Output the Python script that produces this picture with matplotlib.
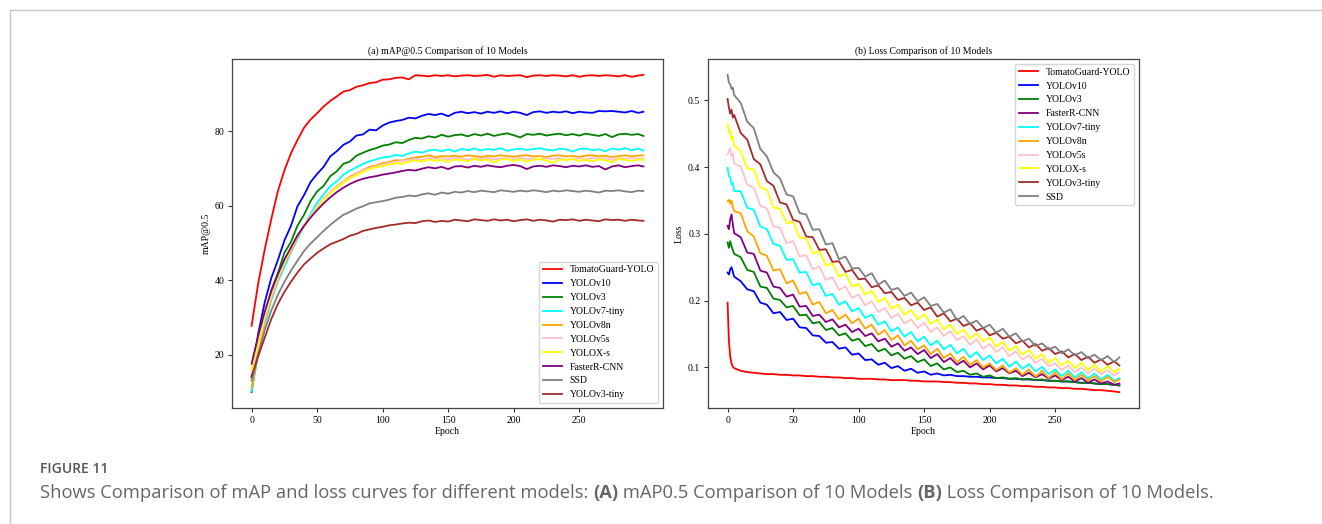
import numpy as np
import matplotlib
matplotlib.use("Agg")
import matplotlib.pyplot as plt
from matplotlib.lines import Line2D

# epochs
map_epochs = list(range(0, 300, 5)) + [299]
loss_epochs = [0, 1, 2, 3, 4] + list(range(5, 300, 5)) + [299]

# ---- (a) mAP@0.5 ----
map_tomato = [27.7, 39.0, 48.2, 56.3, 63.8, 69.4, 74.0, 77.6, 80.9, 83.1, 84.8, 86.6, 88.1, 89.3, 90.6, 91.0, 91.9, 92.3, 92.9, 93.1,
              93.8, 93.9, 94.3, 94.4, 93.9, 95.0, 94.9, 94.7, 95.0, 94.8, 95.0, 94.7, 94.9, 95.0, 94.8, 94.9, 95.1, 94.6, 95.0, 94.8,
              94.9, 95.0, 94.5, 94.9, 95.0, 94.8, 95.0, 94.9, 94.7, 95.0, 94.6, 94.9, 95.0, 94.8, 95.0, 94.9, 94.7, 95.0, 94.6, 94.9, 95.1]
map_v10 = [14.0, 25.5, 34.0, 40.5, 45.3, 50.6, 54.5, 59.8, 62.8, 66.3, 68.5, 70.4, 73.2, 74.6, 76.3, 77.2, 78.8, 79.1, 80.4, 80.2,
           81.5, 82.3, 82.7, 83.0, 83.6, 83.4, 84.1, 84.6, 84.3, 84.7, 84.0, 84.9, 85.2, 84.8, 85.1, 84.7, 85.2, 84.9, 85.3, 84.8,
           85.2, 84.9, 84.3, 85.1, 85.3, 84.9, 85.2, 85.0, 85.3, 84.8, 85.2, 85.0, 84.9, 85.4, 85.3, 85.4, 85.2, 85.0, 85.4, 84.9, 85.2]
map_v3 = [9.9, 21.5, 30.0, 37.2, 41.8, 47.3, 50.2, 54.6, 57.5, 61.2, 63.8, 65.3, 67.9, 69.2, 71.2, 71.8, 73.4, 74.2, 74.9, 75.4,
          76.1, 76.4, 77.0, 76.8, 77.6, 78.2, 78.0, 78.6, 78.3, 79.0, 78.5, 78.9, 79.1, 78.6, 79.2, 78.8, 79.3, 78.7, 79.1, 79.4,
          78.9, 78.3, 79.2, 79.0, 79.3, 78.8, 79.1, 79.3, 78.9, 79.2, 78.8, 79.3, 79.0, 78.7, 79.2, 78.4, 79.1, 79.3, 79.0, 79.2, 78.7]
map_v7tiny = [10.2, 19.8, 28.0, 34.5, 39.5, 43.5, 47.4, 51.0, 54.6, 57.8, 60.8, 63.0, 65.2, 66.5, 68.3, 69.4, 70.3, 71.2, 71.9, 72.4,
              72.9, 73.1, 73.6, 73.3, 74.0, 74.5, 74.2, 74.8, 75.0, 74.6, 75.1, 74.5, 75.2, 74.9, 75.3, 74.8, 75.2, 75.0, 75.4, 74.7,
              75.1, 75.3, 74.9, 75.2, 75.4, 75.0, 74.8, 75.3, 75.1, 74.5, 75.2, 75.3, 74.9, 75.1, 74.6, 75.3, 75.0, 75.4, 74.9, 75.3, 74.8]
map_v8n = [11.0, 20.5, 29.0, 35.0, 40.0, 44.5, 47.6, 51.5, 54.6, 57.0, 59.6, 61.8, 63.5, 65.2, 66.4, 67.8, 68.7, 69.5, 70.4, 70.8,
           71.4, 71.7, 72.2, 72.1, 72.6, 72.9, 73.1, 73.5, 73.0, 73.3, 73.2, 73.4, 73.1, 73.5, 73.3, 73.0, 73.4, 73.2, 73.5, 73.3,
           73.1, 73.4, 73.5, 73.2, 73.3, 73.0, 73.4, 73.5, 73.2, 73.3, 73.1, 73.4, 73.5, 73.2, 73.4, 73.0, 73.3, 73.5, 73.2, 73.4, 73.5]
map_v5s = [15.0, 22.0, 29.5, 35.5, 40.3, 44.6, 48.0, 51.8, 54.8, 57.3, 59.8, 62.0, 63.6, 65.0, 66.3, 67.5, 68.6, 69.4, 70.0, 70.6,
           71.0, 71.5, 71.7, 72.0, 72.2, 72.6, 72.3, 72.8, 72.5, 72.7, 72.4, 72.8, 72.6, 72.3, 72.7, 72.5, 72.8, 72.4, 72.6, 72.7,
           72.3, 72.8, 72.5, 72.6, 72.4, 72.7, 72.5, 72.8, 72.3, 72.6, 72.7, 72.4, 72.8, 72.5, 72.6, 72.3, 72.7, 72.5, 72.8, 72.4, 72.6]
map_yolox = [16.0, 23.0, 30.5, 36.5, 41.0, 45.0, 48.5, 52.0, 54.5, 57.0, 59.3, 61.5, 63.3, 64.8, 66.0, 67.3, 68.2, 69.0, 69.8, 70.3,
             70.6, 71.0, 71.4, 71.2, 71.8, 72.1, 71.8, 72.4, 72.0, 72.3, 71.7, 72.4, 72.2, 71.9, 72.5, 72.1, 72.4, 71.6, 72.3, 72.5,
             72.0, 72.4, 71.8, 72.3, 72.5, 72.1, 71.5, 72.4, 72.2, 72.5, 72.0, 72.3, 71.9, 72.4, 72.2, 71.6, 72.5, 72.3, 72.0, 72.4, 72.2]
map_frcnn = [17.5, 25.0, 31.5, 37.0, 41.5, 45.5, 48.7, 52.0, 54.5, 56.8, 58.8, 60.6, 62.2, 63.6, 64.8, 65.8, 66.6, 67.2, 67.6, 67.9,
             68.3, 68.6, 68.9, 69.3, 69.6, 69.4, 69.9, 70.3, 70.0, 70.4, 69.8, 70.5, 70.6, 70.2, 70.7, 70.4, 70.8, 70.5, 70.3, 70.7,
             70.9, 70.6, 69.8, 70.5, 70.7, 70.4, 70.8, 70.6, 70.3, 70.7, 70.5, 70.8, 70.4, 70.6, 69.7, 70.5, 70.8, 70.3, 70.6, 70.8, 70.5]
map_ssd = [13.0, 20.0, 26.5, 31.8, 36.0, 39.5, 42.5, 45.2, 47.8, 49.8, 51.5, 53.2, 54.8, 56.2, 57.5, 58.3, 59.2, 59.8, 60.6, 60.9,
           61.2, 61.6, 62.1, 62.3, 62.7, 62.5, 63.0, 63.3, 62.9, 63.5, 63.2, 63.7, 63.5, 63.9, 63.6, 64.0, 63.8, 63.6, 64.1, 63.9,
           63.7, 64.0, 63.8, 64.1, 63.9, 63.6, 64.0, 63.8, 64.1, 63.9, 63.7, 64.0, 63.8, 63.5, 64.0, 63.9, 64.1, 63.8, 63.6, 64.0, 63.9]
map_v3tiny = [14.0, 19.5, 24.5, 29.5, 33.5, 36.8, 39.5, 42.0, 44.2, 45.8, 47.3, 48.5, 49.6, 50.3, 51.0, 51.9, 52.4, 53.2, 53.6, 54.0,
              54.3, 54.7, 54.9, 55.2, 55.4, 55.3, 55.8, 56.0, 55.6, 55.9, 55.7, 56.2, 56.0, 55.8, 56.3, 56.1, 55.9, 56.3, 56.0, 56.2,
              55.8, 56.1, 56.3, 55.9, 56.2, 56.0, 55.7, 56.2, 56.1, 56.3, 55.9, 56.2, 56.0, 55.8, 56.3, 56.1, 56.2, 55.9, 56.2, 56.0, 55.9]

# ---- (b) Loss ----
loss_tomato = [0.197, 0.140, 0.116, 0.106, 0.101, 0.099, 0.095, 0.093, 0.092, 0.091, 0.090, 0.090, 0.089, 0.089, 0.088, 0.088,
               0.087, 0.087, 0.086, 0.086, 0.085, 0.085, 0.084, 0.084, 0.083, 0.083, 0.083, 0.082, 0.082, 0.081, 0.081, 0.081,
               0.080, 0.080, 0.079, 0.079, 0.079, 0.078, 0.078, 0.077, 0.077, 0.076, 0.076, 0.075, 0.075, 0.074, 0.074, 0.073,
               0.073, 0.072, 0.072, 0.071, 0.071, 0.070, 0.070, 0.069, 0.069, 0.068, 0.068, 0.067, 0.066, 0.066, 0.065, 0.064, 0.063]
loss_v10 = [0.242, 0.239, 0.247, 0.250, 0.243, 0.236, 0.229, 0.217, 0.214, 0.197, 0.194, 0.181, 0.183, 0.171, 0.173, 0.160,
            0.159, 0.148, 0.147, 0.137, 0.138, 0.128, 0.130, 0.119, 0.121, 0.111, 0.112, 0.104, 0.107, 0.099, 0.102, 0.095,
            0.098, 0.092, 0.094, 0.089, 0.091, 0.088, 0.089, 0.087, 0.087, 0.086, 0.086, 0.085, 0.085, 0.084, 0.084, 0.083,
            0.083, 0.082, 0.082, 0.081, 0.081, 0.080, 0.080, 0.079, 0.079, 0.078, 0.077, 0.077, 0.076, 0.075, 0.075, 0.074, 0.073]
loss_v3 = [0.287, 0.279, 0.289, 0.281, 0.276, 0.270, 0.265, 0.246, 0.243, 0.221, 0.219, 0.203, 0.201, 0.190, 0.192, 0.178,
           0.179, 0.166, 0.168, 0.156, 0.159, 0.148, 0.151, 0.140, 0.143, 0.132, 0.135, 0.124, 0.128, 0.118, 0.122, 0.113,
           0.117, 0.108, 0.112, 0.102, 0.106, 0.097, 0.100, 0.093, 0.095, 0.089, 0.091, 0.086, 0.088, 0.084, 0.085, 0.083,
           0.084, 0.082, 0.083, 0.081, 0.082, 0.080, 0.080, 0.079, 0.079, 0.078, 0.077, 0.077, 0.076, 0.075, 0.075, 0.074, 0.073]
loss_frcnn = [0.312, 0.307, 0.322, 0.329, 0.314, 0.301, 0.295, 0.272, 0.270, 0.245, 0.242, 0.221, 0.219, 0.206, 0.209, 0.191,
              0.192, 0.177, 0.179, 0.168, 0.172, 0.160, 0.164, 0.153, 0.158, 0.147, 0.151, 0.139, 0.143, 0.131, 0.136, 0.125,
              0.130, 0.120, 0.126, 0.114, 0.120, 0.108, 0.114, 0.104, 0.110, 0.100, 0.106, 0.097, 0.103, 0.094, 0.099, 0.091,
              0.095, 0.087, 0.092, 0.085, 0.090, 0.083, 0.088, 0.081, 0.086, 0.079, 0.084, 0.077, 0.082, 0.076, 0.079, 0.074, 0.076]
loss_v7tiny = [0.399, 0.386, 0.385, 0.374, 0.376, 0.364, 0.364, 0.339, 0.336, 0.311, 0.307, 0.285, 0.282, 0.261, 0.262, 0.242,
               0.243, 0.223, 0.226, 0.207, 0.210, 0.194, 0.199, 0.184, 0.189, 0.174, 0.179, 0.164, 0.169, 0.154, 0.160, 0.146,
               0.153, 0.139, 0.146, 0.133, 0.140, 0.127, 0.134, 0.121, 0.128, 0.115, 0.123, 0.111, 0.118, 0.106, 0.113, 0.101,
               0.109, 0.098, 0.105, 0.094, 0.101, 0.090, 0.097, 0.087, 0.095, 0.085, 0.093, 0.083, 0.091, 0.082, 0.089, 0.080, 0.084]
loss_v8n = [0.349, 0.351, 0.345, 0.350, 0.340, 0.334, 0.331, 0.304, 0.296, 0.271, 0.267, 0.245, 0.247, 0.226, 0.230, 0.210,
            0.213, 0.194, 0.198, 0.181, 0.186, 0.172, 0.179, 0.166, 0.173, 0.158, 0.164, 0.149, 0.156, 0.141, 0.148, 0.133,
            0.140, 0.127, 0.133, 0.120, 0.128, 0.114, 0.121, 0.108, 0.116, 0.104, 0.111, 0.100, 0.106, 0.096, 0.103, 0.092,
            0.099, 0.089, 0.097, 0.086, 0.095, 0.084, 0.093, 0.082, 0.091, 0.081, 0.089, 0.080, 0.087, 0.079, 0.086, 0.078, 0.082]
loss_v5s = [0.419, 0.424, 0.428, 0.416, 0.420, 0.405, 0.401, 0.374, 0.369, 0.342, 0.338, 0.311, 0.309, 0.286, 0.289, 0.266,
            0.268, 0.247, 0.251, 0.231, 0.235, 0.216, 0.221, 0.204, 0.209, 0.193, 0.199, 0.183, 0.189, 0.174, 0.180, 0.166,
            0.172, 0.159, 0.167, 0.153, 0.160, 0.147, 0.154, 0.141, 0.147, 0.134, 0.142, 0.128, 0.135, 0.123, 0.130, 0.117,
            0.124, 0.112, 0.118, 0.107, 0.113, 0.102, 0.106, 0.096, 0.103, 0.093, 0.100, 0.091, 0.098, 0.090, 0.096, 0.088, 0.093]
loss_yolox = [0.464, 0.452, 0.455, 0.441, 0.446, 0.432, 0.424, 0.398, 0.396, 0.370, 0.366, 0.339, 0.338, 0.316, 0.318, 0.294,
              0.293, 0.271, 0.274, 0.252, 0.256, 0.236, 0.240, 0.221, 0.225, 0.209, 0.215, 0.198, 0.204, 0.188, 0.194, 0.179,
              0.186, 0.172, 0.180, 0.165, 0.172, 0.157, 0.164, 0.150, 0.157, 0.143, 0.151, 0.139, 0.145, 0.131, 0.138, 0.125,
              0.132, 0.119, 0.126, 0.113, 0.120, 0.107, 0.114, 0.103, 0.110, 0.099, 0.107, 0.096, 0.104, 0.094, 0.102, 0.093, 0.098]
loss_v3tiny = [0.502, 0.489, 0.480, 0.486, 0.474, 0.478, 0.451, 0.441, 0.412, 0.404, 0.379, 0.372, 0.347, 0.344, 0.321, 0.318,
               0.296, 0.295, 0.276, 0.277, 0.258, 0.259, 0.243, 0.246, 0.232, 0.233, 0.220, 0.223, 0.211, 0.213, 0.201, 0.204,
               0.193, 0.197, 0.186, 0.190, 0.176, 0.181, 0.169, 0.173, 0.162, 0.166, 0.155, 0.159, 0.148, 0.152, 0.143, 0.146,
               0.136, 0.140, 0.130, 0.135, 0.125, 0.129, 0.120, 0.124, 0.115, 0.120, 0.111, 0.116, 0.107, 0.112, 0.104, 0.109, 0.103]
loss_ssd = [0.538, 0.526, 0.524, 0.517, 0.519, 0.508, 0.496, 0.468, 0.458, 0.427, 0.416, 0.392, 0.383, 0.359, 0.356, 0.331,
            0.329, 0.306, 0.307, 0.284, 0.286, 0.262, 0.266, 0.248, 0.249, 0.236, 0.241, 0.224, 0.230, 0.216, 0.219, 0.207,
            0.212, 0.199, 0.205, 0.192, 0.195, 0.182, 0.187, 0.171, 0.177, 0.165, 0.170, 0.159, 0.164, 0.152, 0.158, 0.146,
            0.151, 0.139, 0.143, 0.132, 0.136, 0.127, 0.131, 0.121, 0.127, 0.118, 0.123, 0.114, 0.119, 0.111, 0.117, 0.108, 0.115]

map_series = [("TomatoGuard-YOLO", map_tomato, "red"), ("YOLOv10", map_v10, "blue"), ("YOLOv3", map_v3, "green"),
              ("YOLOv7-tiny", map_v7tiny, "cyan"), ("YOLOv8n", map_v8n, "orange"), ("YOLOv5s", map_v5s, "pink"),
              ("YOLOX-s", map_yolox, "yellow"), ("FasterR-CNN", map_frcnn, "purple"), ("SSD", map_ssd, "gray"),
              ("YOLOv3-tiny", map_v3tiny, "brown")]
loss_series = [("TomatoGuard-YOLO", loss_tomato, "red"), ("YOLOv10", loss_v10, "blue"), ("YOLOv3", loss_v3, "green"),
               ("FasterR-CNN", loss_frcnn, "purple"), ("YOLOv7-tiny", loss_v7tiny, "cyan"), ("YOLOv8n", loss_v8n, "orange"),
               ("YOLOv5s", loss_v5s, "pink"), ("YOLOX-s", loss_yolox, "yellow"), ("YOLOv3-tiny", loss_v3tiny, "brown"),
               ("SSD", loss_ssd, "gray")]

plt.rcParams['font.family'] = ['Liberation Serif', 'DejaVu Serif']
plt.rcParams['font.size'] = 7

W, H = 1322, 524
fig = plt.figure(figsize=(W / 100, H / 100), dpi=100)

ax1 = fig.add_axes([232 / W, 1 - 408 / H, 431 / W, 349 / H])
ax2 = fig.add_axes([708 / W, 1 - 408 / H, 431 / W, 349 / H])

for name, vals, col in map_series:
    ax1.plot(map_epochs, vals, color=col, lw=1.3, label=name)
for name, vals, col in loss_series:
    ax2.plot(loss_epochs, vals, color=col, lw=1.3, label=name)

ax1.set_title("(a) mAP@0.5 Comparison of 10 Models", fontsize=7, pad=4)
ax1.set_xlabel("Epoch", fontsize=7, labelpad=2)
ax1.set_ylabel("mAP@0.5", fontsize=7, labelpad=3)
ax1.set_yticks([20, 40, 60, 80])
ax1.legend(loc="lower right", fontsize=7)

ax2.set_title("(b) Loss Comparison of 10 Models", fontsize=7, pad=4)
ax2.set_xlabel("Epoch", fontsize=7, labelpad=2)
ax2.set_ylabel("Loss", fontsize=7, labelpad=3)
ax2.set_yticks([0.1, 0.2, 0.3, 0.4, 0.5])
ax2.legend(loc="upper right", fontsize=7)

for ax in (ax1, ax2):
    ax.set_xticks([0, 50, 100, 150, 200, 250])
    ax.tick_params(labelsize=7, length=3, pad=2.5, color="#333333")
    for sp in ax.spines.values():
        sp.set_color("#444444")
        sp.set_linewidth(0.9)

# page frame lines
fig.add_artist(Line2D([10 / W, 1], [1 - 9.5 / H, 1 - 9.5 / H], color="#c8c8c8", lw=1.0))
fig.add_artist(Line2D([10 / W, 10 / W], [0, 1 - 9.5 / H], color="#c8c8c8", lw=1.0))

# caption
fig.text(40 / W, 1 - 469 / H, "FIGURE 11", fontsize=10, color="#555555", family="Open Sans",
         fontweight="semibold", va="center")
fig.canvas.draw()
renderer = fig.canvas.get_renderer()
parts = [("Shows Comparison of mAP and loss curves for different models: ", "normal"), ("(A)", "bold"),
         (" mAP0.5 Comparison of 10 Models ", "normal"), ("(B)", "bold"),
         (" Loss Comparison of 10 Models.", "normal")]
x = 40
for s, w in parts:
    t = fig.text(x / W, 1 - 493 / H, s, fontsize=13.2, color="#666666", family="Open Sans",
                 fontweight=w, va="center")
    bb = t.get_window_extent(renderer)
    x = bb.x1

fig.savefig("out.png", dpi=100)
